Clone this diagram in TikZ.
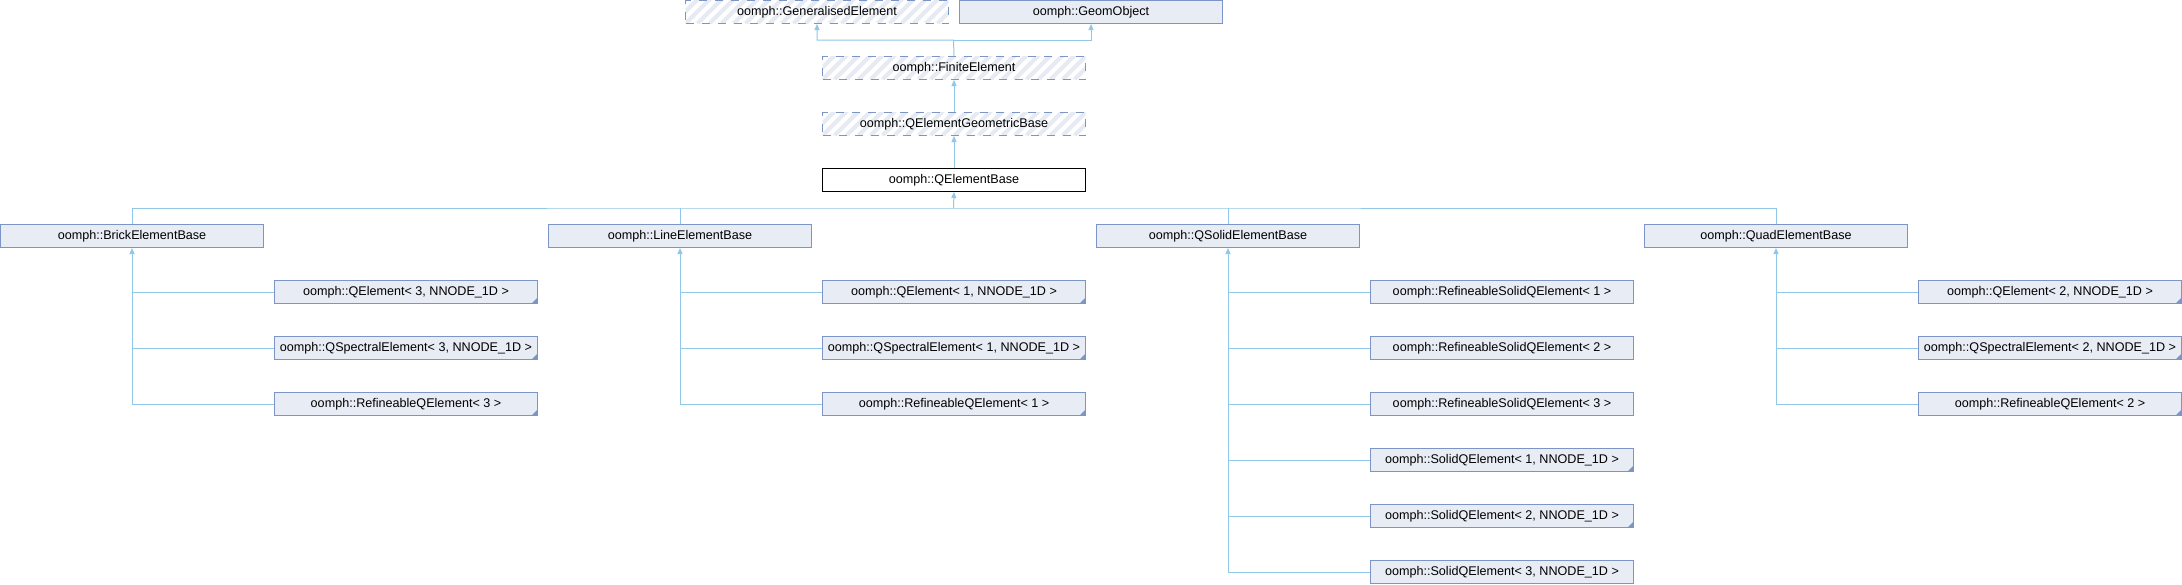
\documentclass[tikz,border=0pt]{standalone}
\usepackage{fontspec}
\setmainfont{Liberation Sans}
\usetikzlibrary{arrows.meta}
\definecolor{bcol}{HTML}{7C95C6}
\definecolor{fcol}{HTML}{E8ECF5}
\definecolor{ecol}{HTML}{90C8EA}
\definecolor{hcol}{HTML}{E6EAF3}
\tikzset{
  box/.style={draw=bcol, fill=fcol, line width=1pt, minimum width=263pt, minimum height=23pt,
    inner sep=0pt, anchor=north west, font=\fontsize{12.6}{14}\selectfont},
  tmpl/.style={box, path picture={\fill[bcol] (path picture bounding box.south east) -- ++(-6pt,0pt) -- ++(6pt,6pt) -- cycle;}},
  hatched/.style={box, fill=white, dash pattern=on 8pt off 8pt,
    path picture={\foreach \k in {-3,...,25}{\draw[hcol, solid, line width=4pt] ([xshift=\k*12pt]path picture bounding box.south west) -- ++(30pt,30pt);}}},
  cur/.style={box, fill=white, draw=black},
  edge/.style={draw=ecol, line width=1pt},
  arr/.style={edge, -{Triangle[width=5pt,length=6pt]}}
}
\begin{document}
\begin{tikzpicture}[x=1pt,y=-1pt]
\useasboundingbox[fill=white] (0,0) rectangle (2182,584);
% top levels
\node[hatched] (ge) at (685,0) {oomph::GeneralisedElement};
\node[box] (go) at (959,0) {oomph::GeomObject};
\node[hatched] (fe) at (822,56) {oomph::FiniteElement};
\node[hatched] (qegb) at (822,112) {oomph::QElementGeometricBase};
\node[cur] (qeb) at (822,168) {oomph::QElementBase};
% second level
\node[box] (brick) at (0,224) {oomph::BrickElementBase};
\node[box] (line) at (548,224) {oomph::LineElementBase};
\node[box] (qsolid) at (1096,224) {oomph::QSolidElementBase};
\node[box] (quad) at (1644,224) {oomph::QuadElementBase};
% brick children
\node[tmpl] (b1) at (274,280) {oomph::QElement< 3, NNODE\_1D >};
\node[tmpl] (b2) at (274,336) {oomph::QSpectralElement< 3, NNODE\_1D >};
\node[tmpl] (b3) at (274,392) {oomph::RefineableQElement< 3 >};
% line children
\node[tmpl] (l1) at (822,280) {oomph::QElement< 1, NNODE\_1D >};
\node[tmpl] (l2) at (822,336) {oomph::QSpectralElement< 1, NNODE\_1D >};
\node[tmpl] (l3) at (822,392) {oomph::RefineableQElement< 1 >};
% qsolid children
\node[box] (s1) at (1370,280) {oomph::RefineableSolidQElement< 1 >};
\node[box] (s2) at (1370,336) {oomph::RefineableSolidQElement< 2 >};
\node[box] (s3) at (1370,392) {oomph::RefineableSolidQElement< 3 >};
\node[tmpl] (s4) at (1370,448) {oomph::SolidQElement< 1, NNODE\_1D >};
\node[tmpl] (s5) at (1370,504) {oomph::SolidQElement< 2, NNODE\_1D >};
\node[box] (s6) at (1370,560) {oomph::SolidQElement< 3, NNODE\_1D >};
% quad children
\node[tmpl] (q1) at (1918,280) {oomph::QElement< 2, NNODE\_1D >};
\node[tmpl] (q2) at (1918,336) {oomph::QSpectralElement< 2, NNODE\_1D >};
\node[tmpl] (q3) at (1918,392) {oomph::RefineableQElement< 2 >};
% upper edges
\coordinate (top) at (953.5,40);
\draw[arr] (fe.north) -- (top) -| (ge.south);
\draw[arr] (top) -| (go.south);
\draw[arr] (qegb.north) -- (fe.south);
\draw[arr] (qeb.north) -- (qegb.south);
% bus to second level
\coordinate (bus) at (953.5,208);
\draw[edge] (brick.north) |- (bus) -| (quad.north);
\draw[edge] (line.north) -- (line.north |- bus);
\draw[edge] (qsolid.north) -- (qsolid.north |- bus);
\draw[arr] (bus) -- (qeb.south);
% children edges
\foreach \c in {b1,b2}{\draw[edge] (\c.west) -- (\c.west -| brick.south);}
\draw[arr] (b3.west) -| (brick.south);
\foreach \c in {l1,l2}{\draw[edge] (\c.west) -- (\c.west -| line.south);}
\draw[arr] (l3.west) -| (line.south);
\foreach \c in {s1,s2,s3,s4,s5}{\draw[edge] (\c.west) -- (\c.west -| qsolid.south);}
\draw[arr] (s6.west) -| (qsolid.south);
\foreach \c in {q1,q2}{\draw[edge] (\c.west) -- (\c.west -| quad.south);}
\draw[arr] (q3.west) -| (quad.south);
\end{tikzpicture}
\end{document}
